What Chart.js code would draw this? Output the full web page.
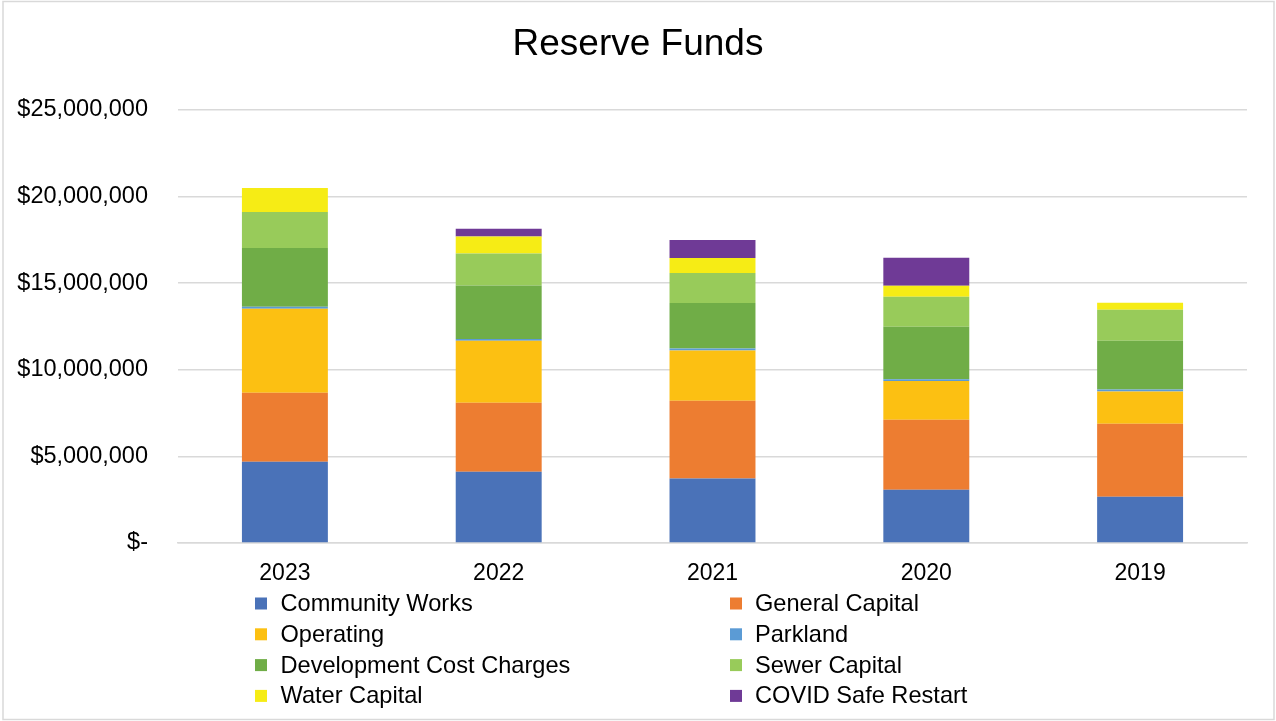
<!DOCTYPE html>
<html>
<head>
<meta charset="utf-8">
<title>Reserve Funds</title>
<script src="https://cdn.jsdelivr.net/npm/chart.js@4/dist/chart.umd.min.js"></script>
<style>
  html, body { margin: 0; padding: 0; background: #fff; }
  canvas { display: block; }
</style>
</head>
<body>
<canvas id="reserveChart" width="1276" height="721"></canvas>
<script>
// Year-end reserve fund balances
const years = ['2023', '2022', '2021', '2020', '2019'];

const communityWorks = [4690000, 4120000, 3730000, 3080000, 2670000];
const generalCapital = [3980000, 3980000, 4480000, 4040000, 4210000];
const operating = [4850000, 3580000, 2900000, 2230000, 1870000];
const parkland = [115000, 100000, 115000, 100000, 115000];
const devCostCharges = [3400000, 3080000, 2630000, 3040000, 2810000];
const sewerCapital = [2080000, 1850000, 1730000, 1730000, 1790000];
const waterCapital = [1380000, 980000, 870000, 630000, 400000];
const covidRestart = [0, 460000, 1040000, 1620000, 0];

const yTicks = [0, 5000000, 10000000, 15000000, 20000000, 25000000];

const FONT = '"Liberation Sans", Arial, sans-serif';
const GRID = '#d9d9d9';

const series = [
  { label: 'Community Works', data: communityWorks, color: '#4a72b8' },
  { label: 'General Capital', data: generalCapital, color: '#ed7d31' },
  { label: 'Operating', data: operating, color: '#fcc012' },
  { label: 'Parkland', data: parkland, color: '#5b9bd5' },
  { label: 'Development Cost Charges', data: devCostCharges, color: '#70ad47' },
  { label: 'Sewer Capital', data: sewerCapital, color: '#98cb5a' },
  { label: 'Water Capital', data: waterCapital, color: '#f6ec15' },
  { label: 'COVID Safe Restart', data: covidRestart, color: '#6f3a96' },
];

const formatDollars = (v) => v === 0 ? '$-' : '$' + v.toLocaleString('en-US');

// white background and thin outer frame
const framePlugin = {
  id: 'frame',
  beforeDraw(chart) {
    const ctx = chart.ctx;
    ctx.save();
    ctx.fillStyle = '#fff';
    ctx.fillRect(0, 0, chart.width, chart.height);
    ctx.strokeStyle = GRID;
    ctx.lineWidth = 1.5;
    ctx.strokeRect(3, 1.5, chart.width - 5, chart.height - 3);
    ctx.restore();
  }
};

// two-column legend under the axis labels
const twoColLegend = {
  id: 'twoColLegend',
  afterDraw(chart) {
    const ctx = chart.ctx;
    const boxX = [255, 730];
    const textX = [280.5, 755];
    ctx.save();
    ctx.font = '23.6px ' + FONT;
    ctx.textBaseline = 'middle';
    ctx.textAlign = 'left';
    chart.data.datasets.forEach((ds, i) => {
      const col = i % 2;
      const row = Math.floor(i / 2);
      const cy = 603.5 + row * 30.8;
      ctx.fillStyle = ds.backgroundColor;
      ctx.fillRect(boxX[col], cy - 6, 12, 12);
      ctx.fillStyle = '#000';
      ctx.fillText(ds.label, textX[col], cy + 1);
    });
    ctx.restore();
  }
};

new Chart(document.getElementById('reserveChart'), {
  type: 'bar',
  data: {
    labels: years,
    datasets: series.map(s => ({
      label: s.label,
      data: s.data,
      backgroundColor: s.color,
      borderWidth: 0,
      categoryPercentage: 1,
      barPercentage: 0.402,
    })),
  },
  options: {
    responsive: false,
    animation: false,
    layout: { padding: 0 },
    plugins: {
      legend: { display: false },
      tooltip: { enabled: false },
      title: {
        display: true,
        text: 'Reserve Funds',
        color: '#000',
        font: { family: FONT, size: 37, weight: 'normal' },
        padding: { top: 23, bottom: 42.6 },
      },
    },
    scales: {
      x: {
        stacked: true,
        grid: { display: false },
        border: { display: true, color: GRID, width: 1.5 },
        ticks: {
          color: '#000',
          font: { family: FONT, size: 23 },
          padding: 9,
          maxRotation: 0,
        },
        afterFit: (scale) => { scale.height = 178; },
      },
      y: {
        stacked: true,
        min: 0,
        max: 25000000,
        grid: { color: GRID, lineWidth: 1.5, drawTicks: false },
        border: { display: false },
        afterBuildTicks: (scale) => { scale.ticks = yTicks.map(v => ({ value: v })); },
        ticks: {
          color: '#000',
          font: { family: FONT, size: 23.5 },
          padding: 30,
          callback: formatDollars,
        },
        afterFit: (scale) => { scale.width = 178; },
      },
      // empty right-hand gutter
      gutter: {
        position: 'right',
        grid: { display: false, drawTicks: false },
        border: { display: false },
        ticks: { display: false },
        afterFit: (scale) => { scale.width = 29; },
      },
    },
  },
  plugins: [framePlugin, twoColLegend],
});
</script>
</body>
</html>
